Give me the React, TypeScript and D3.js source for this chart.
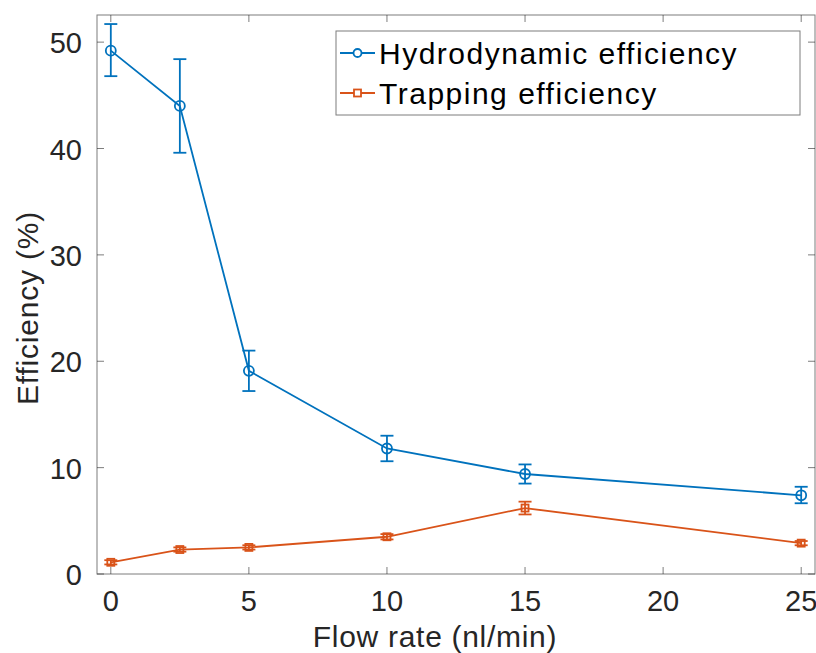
import React, { useRef, useEffect } from 'react';
import * as d3 from 'd3';

// Flow rate (nl/min)
const flowRates = [0, 2.5, 5, 10, 15, 25];

// Hydrodynamic efficiency (%) with error bar bounds
const hydroMean = [49.2, 44.0, 19.1, 11.8, 9.4, 7.4];
const hydroLow = [46.8, 39.6, 17.2, 10.6, 8.5, 6.65];
const hydroHigh = [51.7, 48.4, 21.0, 13.0, 10.3, 8.2];

// Trapping efficiency (%) with error bar bounds
const trapMean = [1.1, 2.3, 2.5, 3.5, 6.2, 2.9];
const trapLow = [0.9, 2.1, 2.3, 3.25, 5.6, 2.7];
const trapHigh = [1.3, 2.5, 2.7, 3.75, 6.8, 3.1];

const xTicks = [0, 5, 10, 15, 20, 25];
const yTicks = [0, 10, 20, 30, 40, 50];

const seriesLabels = ['Hydrodynamic efficiency', 'Trapping efficiency'];

const App = () => {
  const svgRef = useRef(null);
  const width = 816;
  const height = 653;

  useEffect(() => {
    if (!svgRef.current) return;
    d3.select(svgRef.current).selectAll('*').remove();

    const svg = d3.select(svgRef.current);
    const font = 'Liberation Sans, Arial, sans-serif';
    const axisColor = '#262626';

    const left = 97, right = 815, top = 15, bottom = 574;

    const x = d3.scaleLinear().domain([-0.5, 25.5]).range([left, right]);
    const y = d3.scaleLinear().domain([0, 52.55]).range([bottom, top]);

    const blue = '#0072BD';
    const orange = '#D95319';

    // Box
    svg.append('rect')
      .attr('x', left).attr('y', top)
      .attr('width', right - left).attr('height', bottom - top)
      .attr('fill', 'white')
      .attr('stroke', axisColor)
      .attr('stroke-opacity', 0.6)
      .attr('stroke-width', 1);

    // Ticks (inside, on all four sides)
    const tickLen = 7;
    xTicks.forEach(t => {
      svg.append('line').attr('x1', x(t)).attr('x2', x(t)).attr('y1', bottom).attr('y2', bottom - tickLen)
        .attr('stroke', axisColor).attr('stroke-opacity', 0.6);
      svg.append('line').attr('x1', x(t)).attr('x2', x(t)).attr('y1', top).attr('y2', top + tickLen)
        .attr('stroke', axisColor).attr('stroke-opacity', 0.6);
      svg.append('text')
        .attr('x', x(t)).attr('y', 611)
        .attr('text-anchor', 'middle')
        .attr('font-family', font).attr('font-size', 29)
        .attr('fill', axisColor)
        .text(t);
    });
    yTicks.forEach(t => {
      svg.append('line').attr('x1', left).attr('x2', left + tickLen).attr('y1', y(t)).attr('y2', y(t))
        .attr('stroke', axisColor).attr('stroke-opacity', 0.6);
      svg.append('line').attr('x1', right).attr('x2', right - tickLen).attr('y1', y(t)).attr('y2', y(t))
        .attr('stroke', axisColor).attr('stroke-opacity', 0.6);
      svg.append('text')
        .attr('x', 82).attr('y', y(t) + 11)
        .attr('text-anchor', 'end')
        .attr('font-family', font).attr('font-size', 29)
        .attr('fill', axisColor)
        .text(t);
    });

    // Axis labels
    svg.append('text')
      .attr('x', 435).attr('y', 647)
      .attr('text-anchor', 'middle')
      .attr('font-family', font).attr('font-size', 30)
      .attr('letter-spacing', 0.7)
      .attr('fill', axisColor)
      .text('Flow rate (nl/min)');

    svg.append('text')
      .attr('transform', `translate(38, 308) rotate(-90)`)
      .attr('text-anchor', 'middle')
      .attr('font-family', font).attr('font-size', 30)
      .attr('letter-spacing', 0.8)
      .attr('fill', axisColor)
      .text('Efficiency (%)');

    const series = [
      { mean: hydroMean, low: hydroLow, high: hydroHigh, color: blue, marker: 'circle' },
      { mean: trapMean, low: trapLow, high: trapHigh, color: orange, marker: 'square' }
    ];

    const line = d3.line<number>()
      .x((d, i) => x(flowRates[i]))
      .y(d => y(d));

    series.forEach(s => {
      const g = svg.append('g');
      g.append('path')
        .datum(s.mean)
        .attr('d', line)
        .attr('fill', 'none')
        .attr('stroke', s.color)
        .attr('stroke-width', 1.8);

      flowRates.forEach((fr, i) => {
        const cx = x(fr);
        const cap = 6.5;
        g.append('line').attr('x1', cx).attr('x2', cx).attr('y1', y(s.low[i])).attr('y2', y(s.high[i]))
          .attr('stroke', s.color).attr('stroke-width', 1.8);
        [s.low[i], s.high[i]].forEach(v => {
          g.append('line').attr('x1', cx - cap).attr('x2', cx + cap).attr('y1', y(v)).attr('y2', y(v))
            .attr('stroke', s.color).attr('stroke-width', 1.8);
        });
        if (s.marker === 'circle') {
          g.append('circle').attr('cx', cx).attr('cy', y(s.mean[i])).attr('r', 5)
            .attr('fill', 'none').attr('stroke', s.color).attr('stroke-width', 1.8);
        } else {
          g.append('rect').attr('x', cx - 3.5).attr('y', y(s.mean[i]) - 3.5).attr('width', 7).attr('height', 7)
            .attr('fill', 'none').attr('stroke', s.color).attr('stroke-width', 1.8);
        }
      });
    });

    // Legend
    const legend = svg.append('g');
    legend.append('rect')
      .attr('x', 336).attr('y', 31)
      .attr('width', 464).attr('height', 84)
      .attr('fill', 'white')
      .attr('stroke', axisColor).attr('stroke-opacity', 0.6);

    series.forEach((s, i) => {
      const ly = 53 + i * 40;
      legend.append('line').attr('x1', 340).attr('x2', 375).attr('y1', ly).attr('y2', ly)
        .attr('stroke', s.color).attr('stroke-width', 1.8);
      if (s.marker === 'circle') {
        legend.append('circle').attr('cx', 357.5).attr('cy', ly).attr('r', 4)
          .attr('fill', 'white').attr('stroke', s.color).attr('stroke-width', 1.8);
      } else {
        legend.append('rect').attr('x', 354).attr('y', ly - 3.5).attr('width', 7).attr('height', 7)
          .attr('fill', 'white').attr('stroke', s.color).attr('stroke-width', 1.8);
      }
      legend.append('text')
        .attr('x', 379).attr('y', ly + 11)
        .attr('font-family', font).attr('font-size', 30)
        .attr('letter-spacing', 1.5)
        .attr('fill', '#000')
        .text(seriesLabels[i]);
    });
  }, []);

  return (
    <div style={{ position: 'absolute', left: 0, top: 0, width: 816, height: 653, background: 'white' }}>
      <svg ref={svgRef} width={width} height={height} style={{ display: 'block' }}></svg>
    </div>
  );
};

export default App;
